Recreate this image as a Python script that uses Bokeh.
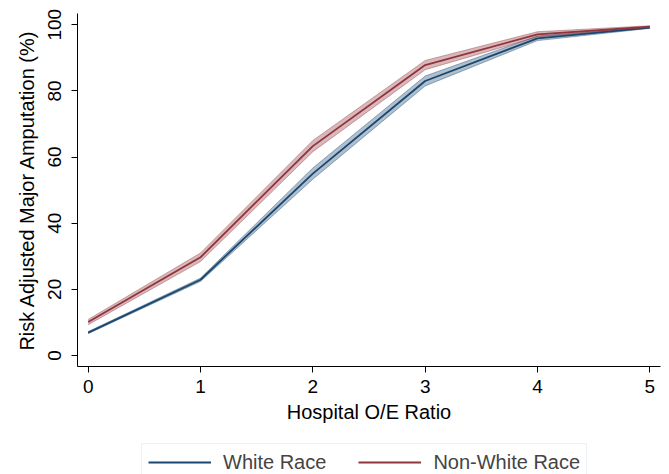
from bokeh.plotting import figure
from bokeh.models import ColumnDataSource, Legend, LegendItem, Range1d, FixedTicker
from bokeh.layouts import column
from bokeh.embed import file_html
from bokeh.resources import INLINE

# ---- data ----
oe_ratio = [0, 1, 2, 3, 4, 5]
white_est = [6.9, 22.9, 55.0, 83.0, 95.9, 99.1]
white_lo = [6.6, 22.4, 53.3, 81.5, 95.2, 98.9]
white_hi = [7.2, 23.4, 56.7, 84.5, 96.6, 99.3]
nonwhite_est = [10.1, 29.7, 63.3, 87.8, 97.1, 99.4]
nonwhite_lo = [9.3, 28.4, 61.6, 86.4, 96.3, 99.1]
nonwhite_hi = [10.9, 31.0, 65.0, 89.2, 97.9, 99.7]
series_names = ["White Race", "Non-White Race"]
x_ticks = [0, 1, 2, 3, 4, 5]
y_ticks = [0, 20, 40, 60, 80, 100]

NAVY = "#1a476f"
MAROON = "#90353b"
FONT = "Liberation Sans"

p = figure(width=661, height=441, output_backend="svg", toolbar_location=None,
           x_range=Range1d(-0.095, 5.095), y_range=Range1d(-3.33, 103.4),
           min_border_left=77, min_border_right=1, min_border_top=13, min_border_bottom=75)
p.outline_line_color = None
p.grid.visible = False
p.background_fill_color = "white"
p.border_fill_color = "white"

src_w = ColumnDataSource(dict(x=oe_ratio, y=white_est, lo=white_lo, hi=white_hi))
src_n = ColumnDataSource(dict(x=oe_ratio, y=nonwhite_est, lo=nonwhite_lo, hi=nonwhite_hi))

for src, col in ((src_w, NAVY), (src_n, MAROON)):
    p.varea(x="x", y1="lo", y2="hi", source=src, fill_color=col, fill_alpha=0.35)
    p.line(x="x", y="lo", source=src, line_color=col, line_alpha=0.4, line_width=1)
    p.line(x="x", y="hi", source=src, line_color=col, line_alpha=0.4, line_width=1)

p.line(x="x", y="y", source=src_w, line_color=NAVY, line_width=1.8)
p.line(x="x", y="y", source=src_n, line_color=MAROON, line_width=1.8)

# axes
for ax in (p.xaxis[0], p.yaxis[0]):
    ax.axis_line_color = "#000000"
    ax.axis_line_width = 1
    ax.major_tick_line_color = "#000000"
    ax.major_tick_out = 6
    ax.major_tick_in = 0
    ax.minor_tick_out = 0
    ax.minor_tick_in = 0
    ax.major_label_text_font = FONT
    ax.major_label_text_font_size = "19px"
    ax.major_label_text_color = "#000000"
    ax.axis_label_text_font = FONT
    ax.axis_label_text_font_size = "20px"
    ax.axis_label_text_font_style = "normal"
    ax.axis_label_text_color = "#000000"

p.xaxis.ticker = FixedTicker(ticks=x_ticks)
p.yaxis.ticker = FixedTicker(ticks=y_ticks)
p.xaxis.axis_label = "Hospital O/E Ratio"
p.yaxis.axis_label = "Risk Adjusted Major Amputation (%)"
p.yaxis.major_label_orientation = "vertical"
p.xaxis.major_label_standoff = 7
p.yaxis.major_label_standoff = 10
p.xaxis.axis_label_standoff = 5
p.yaxis.axis_label_standoff = 8

# ---- legend strip below the plot ----
lg = figure(width=661, height=33, output_backend="svg", toolbar_location=None,
            x_range=Range1d(0, 1), y_range=Range1d(0, 1),
            min_border=0, x_axis_location=None, y_axis_location=None)
lg.outline_line_color = None
lg.grid.visible = False
lw = lg.line(x=[-5, -4], y=[-5, -5], line_color=NAVY, line_width=1.8)
ln = lg.line(x=[-5, -4], y=[-5, -5], line_color=MAROON, line_width=1.8)

legend = Legend(items=[LegendItem(label=series_names[0], renderers=[lw]),
                       LegendItem(label=series_names[1], renderers=[ln])],
                location=(64, -7), orientation="horizontal",
                label_text_font=FONT, label_text_font_size="20px",
                glyph_width=63, glyph_height=24, label_standoff=12, spacing=32,
                padding=6, margin=0,
                border_line_color="#dde6ea", border_line_width=1,
                background_fill_color="white", background_fill_alpha=1)
lg.add_layout(legend, "center")

layout = column(p, lg, spacing=0)
open("out.html", "w").write(file_html(layout, INLINE))
